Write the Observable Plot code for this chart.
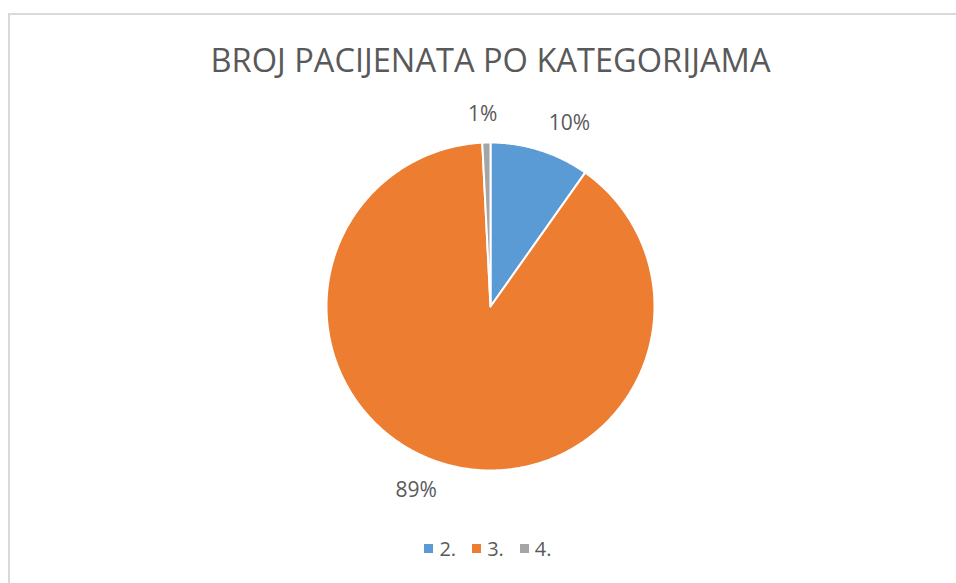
<!DOCTYPE html>
<html>
<head>
<meta charset="utf-8">
<script src="https://cdn.jsdelivr.net/npm/d3@7"></script>
<script src="https://cdn.jsdelivr.net/npm/@observablehq/plot@0.6"></script>
<style>
  html, body { margin: 0; padding: 0; background: #fff; width: 956px; height: 583px; overflow: hidden; }
  body { position: relative; font-family: "Open Sans", sans-serif; color: #595959; }
  #frame { position: absolute; left: 8px; top: 13px; width: 1100px; height: 800px;
           border-left: 2px solid #d9d9d9; border-top: 2px solid #d9d9d9; }
  #title { position: absolute; left: 0; width: 981px; top: 38px; text-align: center;
           font-size: 32.6px; line-height: 44px; white-space: nowrap; }
  #chart { position: absolute; left: 0; top: 92px; }
  #legend { position: absolute; left: 0; width: 976px; top: 535px; text-align: center;
            font-size: 20px; line-height: 28px; white-space: nowrap; }
  #legend .item { display: inline-block; margin: 0 8px; }
  #legend .sw { display: inline-block; width: 9px; height: 9px; margin-right: 6px; vertical-align: 3px; }
</style>
</head>
<body>
<div id="frame"></div>
<div id="title">BROJ PACIJENATA PO KATEGORIJAMA</div>
<div id="chart"></div>
<div id="legend"></div>
<script>
// ---- data ----
const categories = ["2.", "3.", "4."];
const shares = [9.8, 89.4, 0.8];           // percent of patients
const labels = ["10%", "89%", "1%"];
const colors = ["#5B9BD5", "#ED7D31", "#A5A5A5"];

// ---- layout ----
const W = 956, H = 430, R = 164, CX = 490, CY = 214;

const data = categories.map((c, i) => ({cat: c, value: shares[i], label: labels[i]}));
const arcs = d3.pie().sort(null).value(d => d.value)(data);

// slice outlines (unit circle coordinates)
const pts = [];
arcs.forEach(a => {
  const cat = a.data.cat;
  pts.push({cat, x: 0, y: 0});
  const n = Math.max(2, Math.ceil((a.endAngle - a.startAngle) / (Math.PI / 360)));
  for (let k = 0; k <= n; k++) {
    const t = a.startAngle + (a.endAngle - a.startAngle) * k / n;
    pts.push({cat, x: Math.sin(t), y: Math.cos(t)});
  }
});

// label positions outside the pie
const lab = arcs.map(a => {
  const m = (a.startAngle + a.endAngle) / 2;
  const s = Math.sin(m);
  return {
    label: a.data.label,
    x: 1.17 * s, y: 1.17 * Math.cos(m),
    anchor: s > 0.1 ? "start" : s < -0.1 ? "end" : "middle"
  };
});

const textMarks = ["start", "middle", "end"].map(an =>
  Plot.text(lab.filter(d => d.anchor === an), {
    x: "x", y: "y", text: "label", textAnchor: an,
    dx: an === "middle" ? -3 : 0,
    fontSize: 21, fill: "#595959", fontFamily: "Open Sans"
  })
);

const chart = Plot.plot({
  width: W, height: H,
  marginTop: 0, marginRight: 0, marginBottom: 0, marginLeft: 0,
  x: {domain: [-CX / R, (W - CX) / R], range: [0, W], axis: null},
  y: {domain: [CY / R, -(H - CY) / R], range: [0, H], axis: null},
  color: {domain: categories, range: colors},
  style: {fontFamily: "Open Sans", background: "transparent"},
  marks: [
    Plot.line(pts, {x: "x", y: "y", z: "cat", fill: "cat", stroke: "white",
                    strokeWidth: 2, curve: "linear-closed", strokeLinejoin: "round"}),
    ...textMarks
  ]
});
document.getElementById("chart").appendChild(chart);

// legend
const leg = document.getElementById("legend");
categories.forEach((c, i) => {
  const it = document.createElement("span");
  it.className = "item";
  const sw = document.createElement("span");
  sw.className = "sw";
  sw.style.background = colors[i];
  it.appendChild(sw);
  it.appendChild(document.createTextNode(c));
  leg.appendChild(it);
});
</script>
</body>
</html>
